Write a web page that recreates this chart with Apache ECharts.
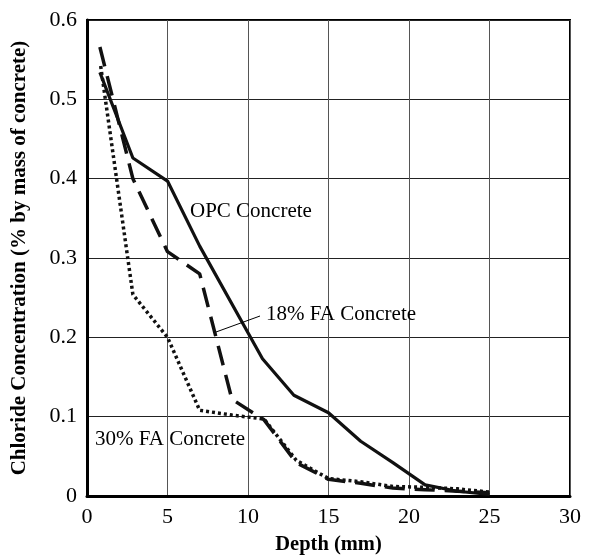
<!DOCTYPE html>
<html>
<head>
<meta charset="utf-8">
<script src="https://cdn.jsdelivr.net/npm/echarts@6/dist/echarts.min.js"></script>
<style>html,body{margin:0;padding:0;background:#fff;}#c{width:589px;height:560px;}</style>
</head>
<body>
<div id="c"></div>
<script>
// Data
var xTicks = [0, 5, 10, 15, 20, 25, 30];
var yTicks = [0, 0.1, 0.2, 0.3, 0.4, 0.5, 0.6];

var opcDepth = [0.8, 2.85, 5, 7, 10.9, 12.85, 15, 17, 19, 21, 23, 25];
var opcValue = [0.534, 0.426, 0.397, 0.315, 0.173, 0.127, 0.105, 0.069, 0.042, 0.014, 0.006, 0.002];

var fa18Depth = [0.8, 2.85, 5, 7, 9, 11, 13, 15, 17, 19, 21, 23, 25];
var fa18Value = [0.566, 0.400, 0.308, 0.280, 0.122, 0.096, 0.042, 0.021, 0.016, 0.010, 0.008, 0.006, 0.004];

var fa30Depth = [0.85, 2.85, 5, 7, 9, 11, 13, 15, 17, 19, 21, 23, 25];
var fa30Value = [0.542, 0.254, 0.200, 0.108, 0.102, 0.097, 0.045, 0.022, 0.018, 0.012, 0.011, 0.009, 0.005];

function pairs(xs, ys) { return xs.map(function (x, i) { return [x, ys[i]]; }); }

var FONT = '"Liberation Serif", "Times New Roman", serif';
var chart = echarts.init(document.getElementById('c'));
chart.setOption({
  animation: false,
  backgroundColor: '#fff',
  grid: { left: 87, right: 19, top: 20, bottom: 54, show: true, borderColor: '#000', borderWidth: 2, backgroundColor: 'transparent' },
  xAxis: {
    type: 'value', min: xTicks[0], max: xTicks[xTicks.length - 1], interval: 5,
    name: 'Depth (mm)', nameLocation: 'middle', nameGap: 38,
    nameTextStyle: { fontFamily: FONT, fontWeight: 'bold', fontSize: 20.5, color: '#000' },
    axisLine: { show: true, lineStyle: { color: '#000', width: 3 } },
    axisTick: { show: false },
    axisLabel: { fontFamily: FONT, fontSize: 22, color: '#000', margin: 10 },
    splitLine: { show: true, lineStyle: { color: '#555', width: 1 } }
  },
  yAxis: {
    type: 'value', min: yTicks[0], max: yTicks[yTicks.length - 1], interval: 0.1,
    name: 'Chloride Concentration (% by mass of concrete)', nameLocation: 'middle', nameGap: 57,
    nameTextStyle: { fontFamily: FONT, fontWeight: 'bold', fontSize: 21, color: '#000' },
    axisLine: { show: true, lineStyle: { color: '#000', width: 3 } },
    axisTick: { show: false },
    axisLabel: { fontFamily: FONT, fontSize: 22, color: '#000', margin: 10,
      formatter: function (v) { return v === 0 ? '0' : v.toFixed(1); } },
    splitLine: { show: true, lineStyle: { color: '#222', width: 1 } }
  },
  series: [
    { name: 'OPC Concrete', type: 'line', data: pairs(opcDepth, opcValue), symbol: 'none',
      lineStyle: { color: '#111', width: 3.2, type: 'solid' } },
    { name: '30% FA Concrete', type: 'line', data: pairs(fa30Depth, fa30Value), symbol: 'none',
      lineStyle: { color: '#111', width: 3.5, type: [3, 3] } },
    { name: '18% FA Concrete', type: 'line', data: pairs(fa18Depth, fa18Value), symbol: 'none',
      lineStyle: { color: '#111', width: 3.5, type: [20, 10] } }
  ],
  graphic: [
    { type: 'text', left: 190, top: 201, style: { text: 'OPC Concrete', font: '21px ' + FONT, fill: '#000' }, z: 100 },
    { type: 'text', left: 266, top: 304, style: { text: '18% FA Concrete', font: '21px ' + FONT, fill: '#000' }, z: 100 },
    { type: 'text', left: 95, top: 429, style: { text: '30% FA Concrete', font: '21px ' + FONT, fill: '#000' }, z: 100 },
    { type: 'line', shape: { x1: 216, y1: 332, x2: 260, y2: 316 }, style: { stroke: '#000', lineWidth: 1 }, z: 100 }
  ]
});
</script>
</body>
</html>
